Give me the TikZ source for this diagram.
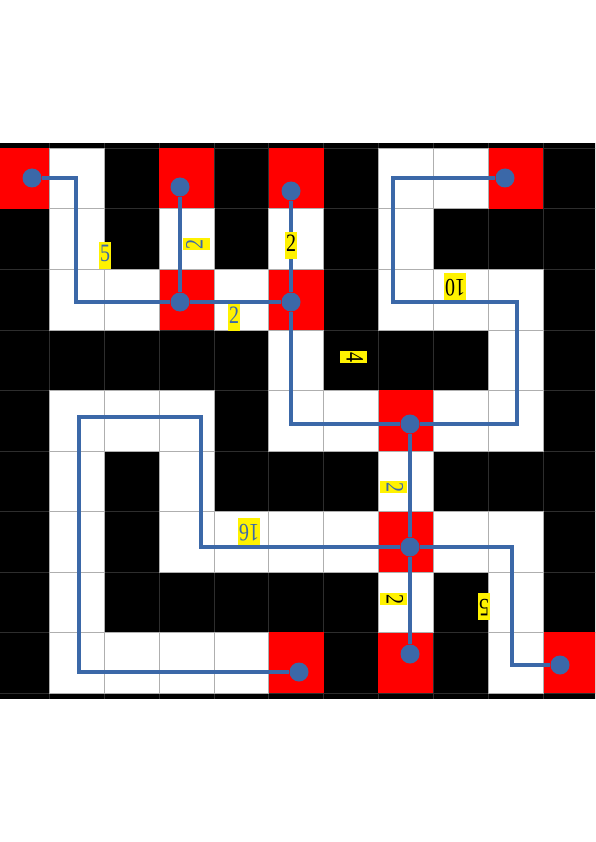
\documentclass[tikz,border=0pt]{standalone}
\usepackage{fontspec}
\newfontfamily\costfont[FakeStretch=0.8]{Liberation Serif}
\definecolor{pathblue}{RGB}{59,104,168}
\definecolor{gridgray}{RGB}{175,175,175}
\definecolor{walldark}{RGB}{45,45,45}

\begin{document}
\begin{tikzpicture}[x=1pt, y=-1pt,
	every node/.style={font=\costfont\fontsize{25}{25}\selectfont},
	room/.style={circle, fill=pathblue, minimum size=19pt, inner sep=0pt},
	link/.style={draw=pathblue, line width=3.5pt},
	cost/.style={fill=yellow, inner xsep=1pt, inner ysep=1pt, text height=19pt, text depth=6pt}]
	\useasboundingbox (0,0) rectangle (595,842);
	\clip (0,0) rectangle (595,842);
	% maze
	\fill[black] (-6,143) rectangle (598,699);
	\foreach \i in {0,...,11}
		\draw[walldark] ({-5.9+54.9*\i},143) -- ({-5.9+54.9*\i},699);
	\foreach \j in {0,...,9}
		\draw[walldark] (-6,{148.2+60.5*\j}) -- (598,{148.2+60.5*\j});
	\foreach \c/\r in {0/0,3/0,5/0,9/0,3/2,5/2,7/4,7/6,5/8,7/8,10/8}
		\fill[red] ({-5.9+54.9*\c},{148.2+60.5*\r}) rectangle +(54.9,60.5);
	\foreach \c/\r in {1/0,7/0,8/0, 1/1,3/1,5/1,7/1, 1/2,2/2,4/2,7/2,8/2,9/2, 5/3,9/3,
		1/4,2/4,3/4,5/4,6/4,8/4,9/4, 1/5,3/5,7/5, 1/6,3/6,4/6,5/6,6/6,8/6,9/6,
		1/7,7/7,9/7, 1/8,2/8,3/8,4/8,9/8}
		\filldraw[fill=white, draw=gridgray] ({-5.9+54.9*\c},{148.2+60.5*\r}) rectangle +(54.9,60.5);

	\node[room] (A) at (32,178) {};
	\node[room] (B) at (180,187) {};
	\node[room] (C) at (291,191) {};
	\node[room] (D) at (180,302) {};
	\node[room] (E) at (291,302) {};
	\node[room] (F) at (505,178) {};
	\node[room] (G) at (410,424) {};
	\node[room] (H) at (410,547) {};
	\node[room] (I) at (410,654) {};
	\node[room] (J) at (560,665) {};
	\node[room] (K) at (299,672) {};
	\coordinate (a1) at (76,302);
	\coordinate (f1) at (393,302);
	\coordinate (f2) at (517,424);
	\coordinate (h1) at (201,417);
	\coordinate (h2) at (79,672);
	\coordinate (h3) at (512,665);

	\draw[link] (A) -| (a1) -- (D);
	\draw[link] (B) -- (D);
	\draw[link] (C) -- (E);
	\draw[link] (D) -- (E);
	\draw[link] (E) |- (G);
	\draw[link] (F) -| (f1) -| (f2) -- (G);
	\draw[link] (G) -- (H);
	\draw[link] (H) -- (I);
	\draw[link] (H) -| (h1) -| (h2) -- (K);
	\draw[link] (H) -| (h3) -- (J);

	\node[cost, text=pathblue] (cAD) at (105,255) {5};
	\node[cost, text=pathblue, rotate=90] (cBD) at (196,244) {2};
	\node[cost] (cCE) at (291,245) {2};
	\node[cost, text=pathblue] (cDE) at (234,317) {2};
	\node[cost, rotate=-90] (cEG) at (353,357) {4};
	\node[cost, rotate=180] (cFG) at (455,286) {10};
	\node[cost, text=pathblue, rotate=-90] (cGH) at (393,487) {2};
	\node[cost, rotate=-90] (cHI) at (393,599) {2};
	\node[cost, text=pathblue, rotate=180] (cHK) at (249,531) {16};
	\node[cost, rotate=180] (cHJ) at (484,606) {5};
\end{tikzpicture}
\end{document}
